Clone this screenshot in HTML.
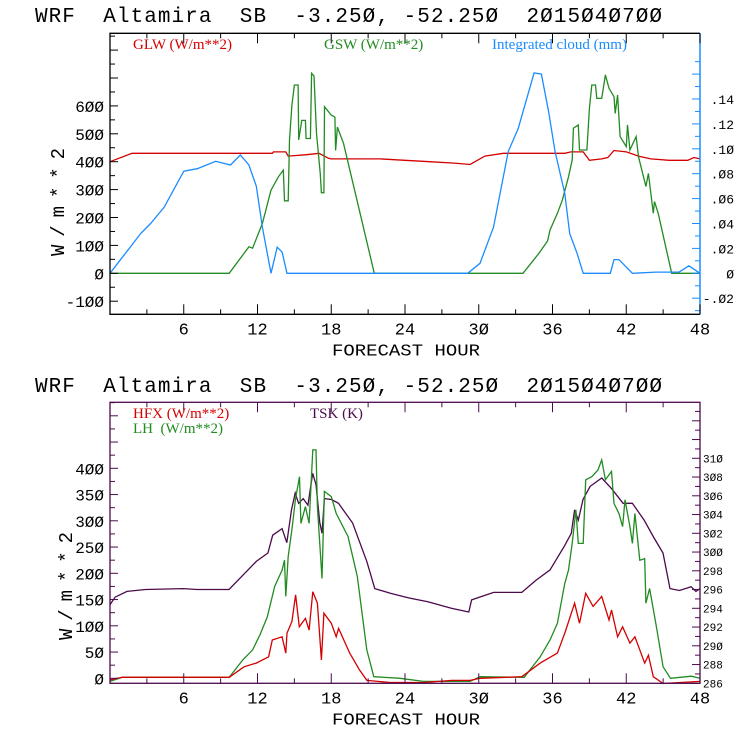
<!DOCTYPE html>
<html><head><meta charset="utf-8"><style>
html,body{margin:0;padding:0;background:#fff;}
svg{display:block;}
.t{font-family:"Liberation Mono",monospace;white-space:pre;}
.s{font-family:"Liberation Serif",serif;font-size:15px;white-space:pre;}
</style></head><body>
<svg id="c" width="740" height="740" viewBox="0 0 740 740"></svg>
<script>
// ---- Top panel data ----
const glwHours=[0,1.8,13.2,13.3,14.3,14.5,16,17,17.8,18,22,24,26,28,29.3,30.5,32,37,37.5,38.5,39,40,40.5,41,42,43,44,45.5,47,47.5,48];
const glwVals=[400,430,430,435,435,420,425,430,412,410,410,405,400,395,390,420,430,430,435,435,405,410,415,440,435,420,410,405,405,415,410];
const cloudHours=[0,2.5,3.3,4.4,6,7.1,8.6,9.8,10.6,11.3,11.9,12.4,13.1,13.6,14,14.4,29.1,30.1,31.2,32.4,33.2,34.5,35.1,35.7,36.2,37,37.4,38,38.5,40.7,41,41.4,42.5,44.4,46.3,47.1,48];
const cloudVals=[0,0.032,0.040,0.053,0.082,0.084,0.090,0.087,0.095,0.087,0.070,0.037,0,0.021,0.017,0,0,0.008,0.037,0.098,0.116,0.161,0.160,0.129,0.098,0.064,0.032,0.016,0,0,0.011,0.011,0,0.001,0.001,0.006,0];
const gswHours=[0,9.7,11.3,11.6,12.4,13.1,13.7,14.1,14.2,14.5,14.6,14.8,15,15.3,15.35,15.6,15.9,15.95,16.3,16.4,16.6,16.8,17.1,17.2,17.4,17.45,18,18.3,18.35,18.5,19,21.5,33.6,34.9,35.6,35.8,36.4,36.8,37.3,37.6,37.7,38.1,38.2,38.8,39,39.2,39.5,39.6,40,40.3,40.6,41,41.1,41.3,41.5,42,42.1,42.3,42.8,43,43.6,43.8,44.2,44.3,44.6,45.7,48];
const gswVals=[0,0,95,90,179,298,346,370,260,260,478,603,675,675,478,548,548,483,483,717,707,501,360,289,289,597,567,560,440,524,466,0,0,72,116,155,215,262,346,406,520,532,442,442,591,675,675,627,627,711,663,633,573,639,490,454,532,442,490,418,311,358,215,257,215,0,0];
// ---- Bottom panel data ----
const tskHours=[0,0.42,1.38,2.9,5.97,7.1,9.68,10.94,11.9,12.85,13.24,14.0,14.38,14.77,15.07,15.34,15.72,16.1,16.49,16.76,17.06,17.25,17.44,18.02,18.59,19.74,20.89,21.54,22.8,24.33,25.86,27.77,29.19,29.42,30.07,31.22,33.5,34.66,35.8,36.95,37.53,37.8,38.1,38.48,39.06,40.0,40.78,41.74,42.5,43.46,44.22,44.99,45.56,46.33,47.28,47.67,48];
const tskVals=[294.4,295.2,295.8,296.0,296.1,296.0,296.0,297.7,299.0,299.9,301.8,302.5,301.0,304.5,306.3,305.2,305.7,305.0,308.4,307.2,303.2,302.0,305.7,305.6,305.2,303.1,299.0,296.1,295.6,295.1,294.7,294.0,293.6,294.9,295.2,295.7,295.7,297.0,298.1,300.6,302.0,304.5,303.4,305.6,307.0,307.9,306.8,305.2,305.2,303.4,301.6,299.9,296.1,295.9,296.3,295.8,296.1];
const lhHours=[0,1,9.7,10.8,11.6,12.2,12.8,13.4,14,14.2,14.3,14.5,14.8,15.1,15.42,15.53,15.9,16.2,16.5,16.76,16.87,17.25,17.44,18.0,18.4,19.36,20.12,20.89,21.46,23.6,25.5,29.3,30.1,33.7,35,35.8,36.4,37,37.3,37.6,37.9,38.1,38.5,38.7,39.2,39.7,40.0,40.3,40.8,41.0,41.4,41.7,41.9,42.3,42.5,42.7,43.1,43.5,43.6,43.9,44.4,45.0,45.6,47.3,48];
const lhVals=[-6,2,2,35,54,83,117,175,206,225,156,232,283,343,384,295,327,295,435,435,327,190,356,346,314,270,194,54,3,0,-6,-6,3,2,41,73,105,181,206,257,321,257,257,378,384,397,416,378,394,333,314,289,340,289,257,314,225,228,143,171,105,22,0,4,0];
const hfxHours=[0,1,9.7,10.9,11.9,12.9,13.2,14,14.3,14.4,14.8,15.1,15.4,15.9,16.2,16.5,16.87,17.2,17.4,18,18.4,18.6,19.5,20.3,20.9,22.8,25.5,27.8,29.3,30.1,33.5,35,36.4,37,37.8,38.2,38.7,39.3,40,40.6,40.8,41.3,41.7,42.3,42.7,43.5,43.8,44.2,45,48];
const hfxVals=[-3,2,2,22,29,41,73,79,48,86,108,159,98,114,92,165,143,35,124,105,79,95,48,16,-4,-8,-8,-4,-4,0,3,29,48,86,143,105,162,137,156,111,130,79,98,67,79,29,44,3,-10,-6];
const topLeftTicks=[-100,0,100,200,300,400,500,600];
const topRightTicks=[-0.02,0,0.02,0.04,0.06,0.08,0.10,0.12,0.14];
const topRightLabels=["-.02","0",".02",".04",".06",".08",".10",".12",".14"];
const botLeftTicks=[0,50,100,150,200,250,300,350,400];
const botRightTicks=[286,288,290,292,294,296,298,300,302,304,306,308,310];
const hourTicks=[6,12,18,24,30,36,42,48];

const NS="http://www.w3.org/2000/svg";
const svg=document.getElementById('c');
function mk(tag,attrs,parent){const e=document.createElementNS(NS,tag);for(const k in attrs)e.setAttribute(k,attrs[k]);(parent||svg).appendChild(e);return e;}
const X0=110,X1=700;
function xs(h){return X0+(X1-X0)*h/48;}
function slash(s){return s.replace(/0/g,'\u00D8');}
const TITLE='WRF  Altamira  SB  -3.250, -52.250  2015040700';

function line(hours,vals,ys,color,name){
  let d='';
  for(let i=0;i<hours.length;i++){d+=(i?'L':'M')+xs(hours[i]).toFixed(1)+' '+ys(vals[i]).toFixed(1);}
  const p=mk('path',{d:d,fill:'none',stroke:color,'stroke-width':1.3});
  
  
}
function xaxis(top,bot,color){
  for(let h=3;h<=48;h+=3){
    const major=h%6===0, L=major?10:5;
    mk('line',{x1:xs(h),x2:xs(h),y1:bot,y2:bot-L,stroke:color});
    mk('line',{x1:xs(h),x2:xs(h),y1:top,y2:top+L,stroke:color});
  }
  hourTicks.forEach(h=>{
    const t=mk('text',{x:xs(h),y:bot+20,class:'t','font-size':'17','text-anchor':'middle'});
    
    
    t.textContent=slash(String(h));
  });
  const xl=mk('text',{x:332,y:bot+41,class:'t','font-size':'17',textLength:'148',lengthAdjust:'spacingAndGlyphs'});
  
  
  xl.textContent='FORECAST HOUR';
}

// ===== Top panel =====
let tt=mk('text',{x:35,y:22,class:'t','font-size':'21',textLength:'627',lengthAdjust:'spacing'});


tt.textContent=slash(TITLE);
const T_TOP=33.3,T_BOT=314.3;
const yT=v=>273.3-v*0.279;
const yC=v=>273.3-v*1245;
line(glwHours,glwVals,yT,'#d40000','glw-line');
line(gswHours,gswVals,yT,'#228b22','gsw-line');
line(cloudHours,cloudVals,yC,'#1a8cff','cloud-line');
let f=mk('path',{d:`M${X1} ${T_TOP}H${X0}V${T_BOT}H${X1}`,fill:'none',stroke:'#000','stroke-width':1.3});


mk('line',{x1:X1,x2:X1,y1:T_TOP,y2:T_BOT,stroke:'#1a8cff','stroke-width':1.5});
for(let v=-100;v<=850;v+=50){const L=v%100===0?8:5;mk('line',{x1:X0,x2:X0+L,y1:yT(v),y2:yT(v),stroke:'#000'});}
for(let v=-3;v<=17;v++){mk('line',{x1:X1,x2:X1-(v%2===0?8:5),y1:yC(v/100),y2:yC(v/100),stroke:'#1a8cff'});}
topLeftTicks.forEach(v=>{const t=mk('text',{x:104,y:yT(v)+6,class:'t','font-size':'16','text-anchor':'end'});
  t.textContent=slash(String(v));});
topRightTicks.forEach((v,i)=>{const t=mk('text',{x:734,y:yC(v)+5,class:'t','font-size':'13','text-anchor':'end'});
  t.textContent=slash(topRightLabels[i]);});
xaxis(T_TOP,T_BOT,'#000');
let yl=mk('text',{x:0,y:0,class:'t','font-size':'19',textLength:'108',lengthAdjust:'spacing',transform:'translate(64,256) rotate(-90)'});
yl.textContent='W/m**2';
[['GLW (W/m**2)',133,'#d40000','legend-glw'],['GSW (W/m**2)',324,'#228b22','legend-gsw'],['Integrated cloud (mm)',492,'#1a8cff','legend-cloud']].forEach(a=>{
  const t=mk('text',{x:a[1],y:49,class:'s',fill:a[2]});t.textContent=a[0];});

// ===== Bottom panel =====
const g=mk('g',{transform:'translate(0,370)'});
const t2=mk('text',{x:35,y:22,class:'t','font-size':'21',textLength:'627',lengthAdjust:'spacing'},g);

t2.textContent=slash(TITLE);
const B_TOP=402.3,B_BOT=683.3,PUR='#4b0a4b';
const yB=v=>678.3-v*0.525;
const yK=v=>683.3-(v-286)*9.375;
line(tskHours,tskVals,yK,PUR,'tsk-line');
line(lhHours,lhVals,yB,'#228b22','lh-line');
line(hfxHours,hfxVals,yB,'#d40000','hfx-line');
f=mk('rect',{x:X0,y:B_TOP,width:X1-X0,height:B_BOT-B_TOP,fill:'none',stroke:PUR,'stroke-width':1.3});

for(let v=0;v<=525;v+=25){const y=yB(v);if(y<B_TOP)break;mk('line',{x1:X0,x2:X0+(v%50===0?8:5),y1:y,y2:y,stroke:PUR});}
for(let v=286;v<=315;v++){const y=yK(v);if(y<B_TOP)break;mk('line',{x1:X1,x2:X1-(v%2===0?8:5),y1:y,y2:y,stroke:PUR});}
botLeftTicks.forEach(v=>{const t=mk('text',{x:104,y:yB(v)+6,class:'t','font-size':'16','text-anchor':'end'});
  t.textContent=slash(String(v));});
botRightTicks.forEach(v=>{const t=mk('text',{x:703,y:yK(v)+4,class:'t','font-size':'11'});
  t.textContent=slash(String(v));});
xaxis(B_TOP,B_BOT,PUR);
yl=mk('text',{x:0,y:0,class:'t','font-size':'19',textLength:'108',lengthAdjust:'spacing',transform:'translate(72,640) rotate(-90)'});
yl.textContent='W/m**2';
[['HFX (W/m**2)',133,418,'#d40000','legend-hfx'],['LH  (W/m**2)',133,433,'#228b22','legend-lh'],['TSK (K)',310,418,PUR,'legend-tsk']].forEach(a=>{
  const t=mk('text',{x:a[1],y:a[2],class:'s',fill:a[3]});t.textContent=a[0];});
</script>
</body></html>
